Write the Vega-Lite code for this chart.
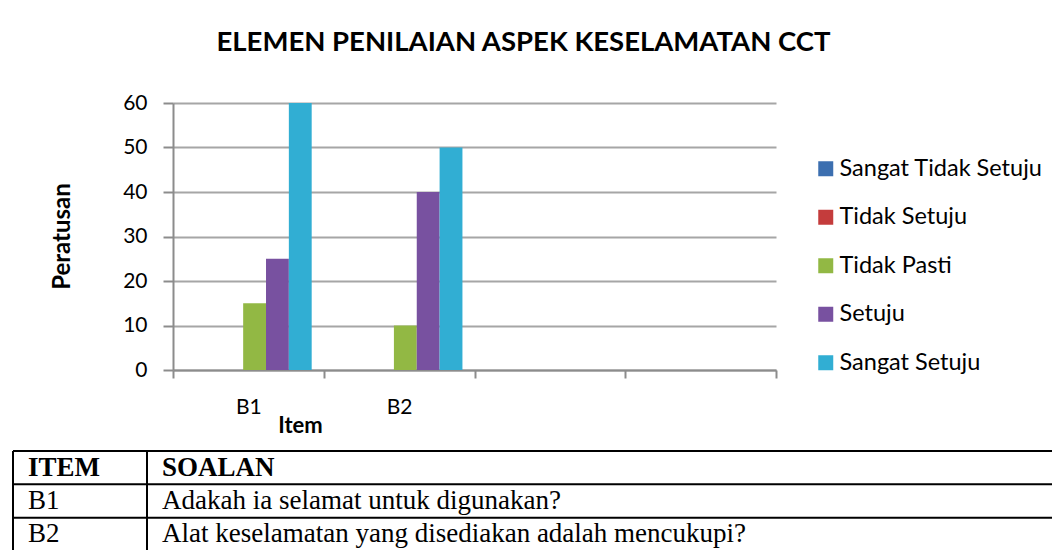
{
  "$schema": "https://vega.github.io/schema/vega-lite/v6.json",
  "background": "white",
  "padding": {"left": 11, "top": 28, "right": 0, "bottom": 0},
  "title": {"text": "ELEMEN PENILAIAN ASPEK KESELAMATAN CCT", "font": "Lato", "fontSize": 27.5, "fontWeight": "bold", "color": "#000000", "anchor": "middle", "offset": 36, "dx": -9},
  "config": {"view": {"stroke": null}, "font": "Lato"},
  "spacing": 14,
  "vconcat": [
    {
      "width": 603,
      "height": 267,
      "data": {"values": [
        {"item": "B1", "response": "Sangat Tidak Setuju", "value": 0},
        {"item": "B1", "response": "Tidak Setuju", "value": 0},
        {"item": "B1", "response": "Tidak Pasti", "value": 15},
        {"item": "B1", "response": "Setuju", "value": 25},
        {"item": "B1", "response": "Sangat Setuju", "value": 60},
        {"item": "B2", "response": "Sangat Tidak Setuju", "value": 0},
        {"item": "B2", "response": "Tidak Setuju", "value": 0},
        {"item": "B2", "response": "Tidak Pasti", "value": 10},
        {"item": "B2", "response": "Setuju", "value": 40},
        {"item": "B2", "response": "Sangat Setuju", "value": 50}
      ]},
      "mark": {"type": "bar"},
      "encoding": {
        "x": {
          "field": "item", "type": "nominal",
          "scale": {"domain": ["B1", "B2", "B3", "B4"], "paddingInner": 0, "paddingOuter": 0},
          "axis": {
            "title": "Item", "titleFont": "Lato", "titleFontSize": 22, "titleFontWeight": "bold", "titleColor": "#000000",
            "titleX": 127, "titleY": 55, "titleBaseline": "middle", "titleAlign": "center",
            "labelExpr": "datum.value == 'B1' || datum.value == 'B2' ? datum.value : ''",
            "labelFontSize": 21, "labelColor": "#000000", "labelAngle": 0, "labelPadding": 18,
            "tickBand": "extent", "tickSize": 8, "tickColor": "#8c8c8c", "tickWidth": 2,
            "domainColor": "#8c8c8c", "domainWidth": 2, "grid": false
          }
        },
        "xOffset": {
          "field": "response", "type": "nominal",
          "scale": {"domain": ["Sangat Tidak Setuju", "Tidak Setuju", "Tidak Pasti", "Setuju", "Sangat Setuju"], "paddingInner": 0, "paddingOuter": 0.8, "align": 0.67}
        },
        "y": {
          "field": "value", "type": "quantitative",
          "scale": {"domain": [0, 60], "nice": false},
          "axis": {
            "title": "Peratusan", "titleFont": "Lato", "titleFontSize": 24, "titleFontWeight": "bold", "titleColor": "#000000",
            "titleX": -111, "titleY": 133, "titleAngle": -90, "titleAlign": "center", "titleBaseline": "middle",
            "values": [0, 10, 20, 30, 40, 50, 60],
            "labelFontSize": 21, "labelColor": "#000000",
            "tickSize": 10, "tickColor": "#8c8c8c", "tickWidth": 2, "labelPadding": 16,
            "domainColor": "#8c8c8c", "domainWidth": 2,
            "grid": true, "gridColor": "#a6a6a6", "gridWidth": 2
          }
        },
        "color": {
          "field": "response", "type": "nominal",
          "scale": {
            "domain": ["Sangat Tidak Setuju", "Tidak Setuju", "Tidak Pasti", "Setuju", "Sangat Setuju"],
            "range": ["#3c6fb0", "#c43c3c", "#92b844", "#7851a0", "#31aed3"]
          },
          "legend": {
            "orient": "none", "legendX": 641, "legendY": 54, "title": null,
            "symbolType": "square", "symbolSize": 225, "symbolStrokeWidth": 0,
            "labelFont": "Lato", "labelFontSize": 23.5, "labelColor": "#000000", "labelLimit": 320,
            "rowPadding": 23.5, "labelOffset": 2
          }
        }
      }
    },
    {
      "width": 879,
      "height": 100,
      "data": {"values": [
        {"item": "ITEM", "soalan": "SOALAN"},
        {"item": "B1", "soalan": "Adakah ia selamat untuk digunakan?"},
        {"item": "B2", "soalan": "Alat keselamatan yang disediakan adalah mencukupi?"}
      ]},
      "layer": [
        {
          "mark": {"type": "rule", "color": "#000000", "strokeWidth": 2},
          "encoding": {
            "x": {"datum": 0, "type": "quantitative", "scale": {"domain": [15.4, 100], "nice": false, "zero": false}, "axis": null},
            "x2": {"datum": 100},
            "y": {"field": "item", "type": "nominal", "bandPosition": 0, "scale": {"domain": ["ITEM", "B1", "B2"], "paddingInner": 0, "paddingOuter": 0}, "axis": null}
          }
        },
        {
          "mark": {"type": "rule", "color": "#000000", "strokeWidth": 2},
          "encoding": {
            "x": {"datum": 0, "type": "quantitative", "scale": {"domain": [15.4, 100], "nice": false, "zero": false}, "axis": null}
          }
        },
        {
          "mark": {"type": "rule", "color": "#000000", "strokeWidth": 2},
          "encoding": {
            "x": {"datum": 12.9, "type": "quantitative", "scale": {"domain": [15.4, 100], "nice": false, "zero": false}, "axis": null}
          }
        },
        {
          "transform": [{"filter": "datum.item === 'ITEM'"}],
          "mark": {"type": "text", "align": "left", "baseline": "middle", "dx": 15, "font": "Liberation Serif", "fontSize": 27, "fontWeight": "bold", "color": "#000000"},
          "encoding": {
            "x": {"datum": 0, "type": "quantitative", "scale": {"domain": [15.4, 100], "nice": false, "zero": false}, "axis": null},
            "y": {"field": "item", "type": "nominal", "scale": {"domain": ["ITEM", "B1", "B2"], "paddingInner": 0, "paddingOuter": 0}, "axis": null},
            "text": {"field": "item"}
          }
        },
        {
          "transform": [{"filter": "datum.item === 'ITEM'"}],
          "mark": {"type": "text", "align": "left", "baseline": "middle", "dx": 15, "font": "Liberation Serif", "fontSize": 27, "fontWeight": "bold", "color": "#000000"},
          "encoding": {
            "x": {"datum": 12.9, "type": "quantitative", "scale": {"domain": [15.4, 100], "nice": false, "zero": false}, "axis": null},
            "y": {"field": "item", "type": "nominal", "scale": {"domain": ["ITEM", "B1", "B2"], "paddingInner": 0, "paddingOuter": 0}, "axis": null},
            "text": {"field": "soalan"}
          }
        },
        {
          "transform": [{"filter": "datum.item !== 'ITEM'"}],
          "mark": {"type": "text", "align": "left", "baseline": "middle", "dx": 15, "font": "Liberation Serif", "fontSize": 27, "color": "#000000"},
          "encoding": {
            "x": {"datum": 0, "type": "quantitative", "scale": {"domain": [15.4, 100], "nice": false, "zero": false}, "axis": null},
            "y": {"field": "item", "type": "nominal", "scale": {"domain": ["ITEM", "B1", "B2"], "paddingInner": 0, "paddingOuter": 0}, "axis": null},
            "text": {"field": "item"}
          }
        },
        {
          "transform": [{"filter": "datum.item !== 'ITEM'"}],
          "mark": {"type": "text", "align": "left", "baseline": "middle", "dx": 15, "font": "Liberation Serif", "fontSize": 27, "color": "#000000"},
          "encoding": {
            "x": {"datum": 12.9, "type": "quantitative", "scale": {"domain": [15.4, 100], "nice": false, "zero": false}, "axis": null},
            "y": {"field": "item", "type": "nominal", "scale": {"domain": ["ITEM", "B1", "B2"], "paddingInner": 0, "paddingOuter": 0}, "axis": null},
            "text": {"field": "soalan"}
          }
        }
      ]
    }
  ]
}
